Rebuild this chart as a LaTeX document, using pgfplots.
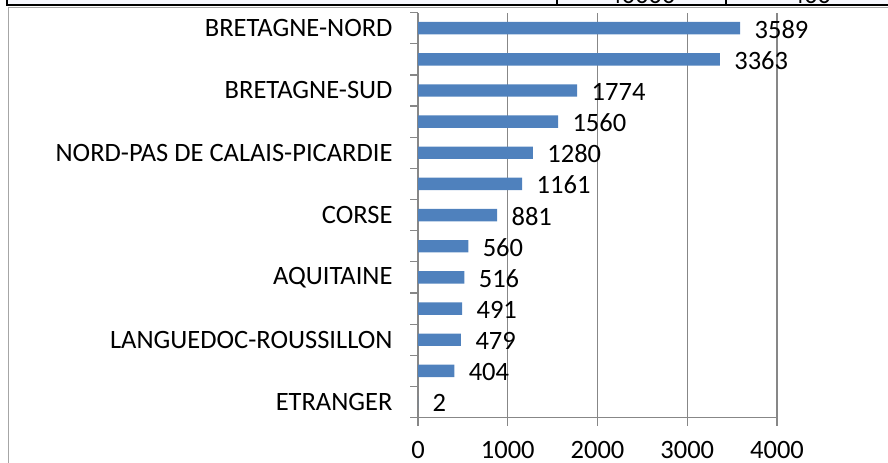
\documentclass[border=0pt]{standalone}
\usepackage{pgfplots}
\pgfplotsset{compat=1.18}
\usepackage{fontspec}
\setmainfont{Carlito}
\definecolor{barblue}{HTML}{4F81BD}
\definecolor{axgray}{HTML}{878787}
\definecolor{framegray}{HTML}{A6A6A6}
\definecolor{cellbg}{HTML}{F7F8FE}
\newcommand{\bigf}{\fontsize{26.5bp}{31bp}\selectfont}
\begin{document}
\begin{tikzpicture}
\path[use as bounding box] (0bp,0bp) rectangle (888bp,463bp);
% fragment of the table above the chart
\begin{scope}
\clip (0bp,457bp) rectangle (888bp,463bp);
\fill[cellbg] (7bp,457bp) rectangle (888bp,463bp);
\node[anchor=base, font=\bigf, inner sep=0] at (642bp,459bp) {40000};
\node[anchor=base, font=\bigf, inner sep=0] at (811bp,459bp) {400};
\end{scope}
\draw[black, line width=2bp] (7bp,463bp) -- (7bp,457.5bp) -- (888bp,457.5bp);
\draw[black, line width=1.5bp] (557bp,463bp) -- (557bp,457.5bp);
\draw[black, line width=1.5bp] (726bp,463bp) -- (726bp,457.5bp);
% chart frame
\draw[framegray, line width=1.5bp] (8.5bp,0bp) -- (8.5bp,455.5bp) -- (888bp,455.5bp);
\begin{axis}[
  at={(418bp,45.4bp)}, anchor=south west,
  scale only axis, width=359bp, height=405bp,
  xmin=0, xmax=4000, ymin=-0.5, ymax=12.5,
  xbar, bar width=12.4bp,
  axis lines*=left,
  axis line style={axgray, line width=1.2bp},
  tick align=outside, major tick length=8bp,
  tick style={axgray, line width=1.2bp},
  xmajorgrids, major grid style={axgray, line width=1.2bp},
  xtick={0,1000,2000,3000,4000},
  xticklabels={0,1000,2000,3000,4000},
  ytick={-0.5,0.5,...,12.5},
  y tick label as interval,
  yticklabels={ETRANGER,{},LANGUEDOC-ROUSSILLON,{},AQUITAINE,{},CORSE,{},NORD-PAS DE CALAIS-PICARDIE,{},BRETAGNE-SUD,{},BRETAGNE-NORD},
  ticklabel style={font=\bigf, text=black},
  xticklabel style={inner sep=0pt, anchor=north, yshift=-16bp},
  yticklabel style={xshift=-14bp},
  /pgf/number format/.cd, 1000 sep={}, assume math mode=true,
  /pgfplots/.cd,
  point meta=x,
  nodes near coords,
  nodes near coords align=horizontal,
  every node near coord/.append style={anchor=west, xshift=11bp, yshift=-1bp, font=\bigf, text=black},
  clip=false,
]
\addplot[fill=barblue, draw=none] coordinates {
(2,0) (404,1) (479,2) (491,3) (516,4) (560,5) (881,6) (1161,7) (1280,8) (1560,9) (1774,10) (3363,11) (3589,12)
};
\end{axis}
\end{tikzpicture}
\end{document}
